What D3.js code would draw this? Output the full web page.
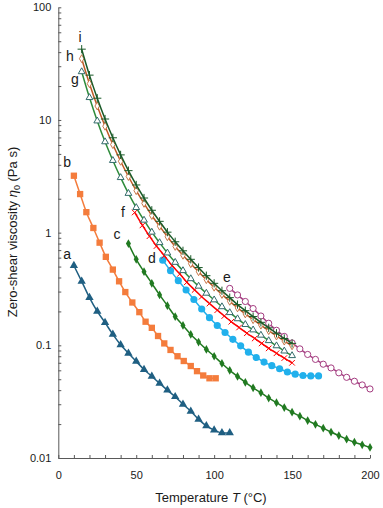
<!DOCTYPE html>
<html>
<head>
<meta charset="utf-8">
<script src="https://cdn.jsdelivr.net/npm/d3@7"></script>
<style>
body { margin: 0; background: #fff; }
svg text { font-family: "Liberation Sans", Arial, sans-serif; fill: #1a1a1a; }
</style>
</head>
<body>
<script>
// temperatures (degC) and zero-shear viscosity (Pa s)
var tempA = [10,15,20,25,30,35,40,45,50,55,60,65,70,75,80,85,90,95,100,105,110];
var viscA = [0.51,0.37,0.265,0.20,0.159,0.125,0.101,0.085,0.072,0.061,0.053,0.046,0.040,0.035,0.030,0.026,0.022,0.0193,0.0177,0.0167,0.0167];

var tempB = [10,14,18,22.5,26.5,30.5,35,39,43,47.5,52,56,60,64,68,72,76.5,80.5,85,89,93,97,101];
var viscB = [3.2,2.2,1.52,1.10,0.815,0.61,0.47,0.37,0.297,0.24,0.197,0.162,0.143,0.121,0.104,0.091,0.080,0.0726,0.0655,0.059,0.054,0.051,0.051];

var tempC = [45,50,55,60,65,70,75,80,85,90,95,100,105,110,115,120,125,130,135,140,145,150,155,160,165,170,175,180,185,190,195,200];
var viscC = [0.80,0.58,0.45,0.355,0.28,0.225,0.18,0.15,0.125,0.107,0.092,0.080,0.069,0.060,0.053,0.047,0.042,0.038,0.034,0.031,0.028,0.0255,0.0235,0.0215,0.0199,0.0184,0.0170,0.0158,0.0147,0.0138,0.0131,0.0124];

var tempD = [67,72,77,82,87,92,97,102,107,112,117,122,127,132,137,142,147,152,157,162,167];
var viscD = [0.57,0.46,0.375,0.31,0.255,0.21,0.176,0.15,0.13,0.113,0.099,0.087,0.078,0.071,0.066,0.062,0.058,0.0555,0.054,0.0535,0.0535];

var tempE = [110,115,120,125,130,135,140,145,150,155,160,165,170,175,180,185,190,195,200];
var viscE = [0.32,0.28,0.245,0.212,0.182,0.157,0.136,0.12,0.105,0.093,0.083,0.075,0.068,0.063,0.057,0.052,0.048,0.0445,0.041];

var tempF = [49,54,58.5,63,68,73,78,82.5,87.5,92,97,102,106.5,111,116,121,126,130.5,135,140,145,150];
var viscF = [1.51,1.16,0.93,0.76,0.625,0.51,0.43,0.363,0.31,0.27,0.235,0.205,0.182,0.162,0.144,0.128,0.115,0.104,0.094,0.085,0.077,0.070];

var tempGHI = [15,20,25,30,35,40,45,50,55,60,65,70,75,80,85,90,95,100,105,110,115,120,125,130,135,140,145,150];
var viscG = [26.8,15.8,9.8,6.4,4.37,3.08,2.23,1.67,1.29,1.01,0.815,0.66,0.545,0.46,0.39,0.335,0.29,0.253,0.22,0.195,0.172,0.153,0.137,0.123,0.11,0.099,0.089,0.081];
var viscH = [35,21,13.3,8.8,6.05,4.3,3.15,2.36,1.82,1.42,1.14,0.92,0.755,0.63,0.53,0.45,0.383,0.328,0.283,0.246,0.215,0.19,0.169,0.151,0.135,0.121,0.109,0.099];
var viscI = [42.5,25,15.6,10.2,6.95,4.9,3.55,2.65,2.03,1.58,1.26,1.01,0.83,0.69,0.58,0.49,0.415,0.355,0.305,0.265,0.23,0.203,0.18,0.16,0.143,0.128,0.115,0.104];

var seriesNames = ['a','b','c','d','e','f','g','h','i'];
var xTickLabels = ['0','50','100','150','200'];
var yTickLabels = ['0.01','0.1','1','10','100'];

var W = 383, H = 508;
var x = d3.scaleLinear().domain([0,200]).range([58.3,370]);
var y = d3.scaleLog().domain([0.01,100]).range([458,7.3]);

var svg = d3.select('body').append('svg').attr('width', W).attr('height', H);

// axes
var xMinor = d3.range(0, 201, 10);
var xAxis = d3.axisBottom(x).tickValues(xMinor).tickSize(-3).tickSizeOuter(0).tickPadding(13)
    .tickFormat(function(d){ return d % 50 === 0 ? xTickLabels[d/50] : ''; });
var gx = svg.append('g').attr('transform','translate(0,458)').call(xAxis);

var yMinor = [];
for (var k = -2; k < 2; k++) {
    for (var m = 1; m < 10; m++) yMinor.push(m * Math.pow(10, k));
}
yMinor.push(100);
var yAxis = d3.axisLeft(y).tickValues(yMinor).tickSize(-3).tickSizeOuter(0).tickPadding(7)
    .tickFormat(function(d){
        var e = Math.round(Math.log10(d));
        return Math.abs(d - Math.pow(10, e)) < 1e-9 ? yTickLabels[e + 2] : '';
    });
var gy = svg.append('g').attr('transform','translate(58.3,0)').call(yAxis);

[gx, gy].forEach(function(g){
    g.selectAll('path,line').attr('stroke','#595959').attr('stroke-width',1);
    g.selectAll('text').attr('font-size', 11).attr('fill','#1a1a1a')
        .attr('font-family','"Liberation Sans", Arial, sans-serif');
});

// axis titles
svg.append('text').attr('x', 211).attr('y', 502).attr('text-anchor','middle').attr('font-size',13)
    .html('Temperature <tspan font-style="italic">T</tspan> (°C)');
svg.append('text').attr('transform','translate(17,232) rotate(-90)').attr('text-anchor','middle').attr('font-size',13)
    .html('Zero-shear viscosity <tspan font-style="italic">η</tspan><tspan font-size="9" dy="3">0</tspan><tspan dy="-3"> (Pa s)</tspan>');

// series
var series = [
    {name:'a', t:tempA, v:viscA, color:'#1f5f82', sym:d3.symbolTriangle, size:30, fill:'#1f5f82', stroke:'none'},
    {name:'b', t:tempB, v:viscB, color:'#f47c3c', sym:d3.symbolSquare, size:40, fill:'#f47c3c', stroke:'none'},
    {name:'c', t:tempC, v:viscC, color:'#217a21', sym:d3.symbolDiamond, size:22, fill:'#217a21', stroke:'none'},
    {name:'d', t:tempD, v:viscD, color:'#21b0ec', sym:d3.symbolCircle, size:40, fill:'#21b0ec', stroke:'none'},
    {name:'e', t:tempE, v:viscE, color:'#a43c80', sym:d3.symbolCircle, size:30, fill:'#fff', stroke:'#a43c80'},
    {name:'f', t:tempF, v:viscF, color:'#ff0000', sym:d3.symbolTimes, size:22, fill:'none', stroke:'#ff0000'},
    {name:'g', t:tempGHI, v:viscG, color:'#2e8b3a', sym:d3.symbolTriangle, size:20, fill:'#fff', stroke:'#336b6b'},
    {name:'h', t:tempGHI, v:viscH, color:'#bf5a26', sym:d3.symbolDiamond, size:18, fill:'#fff', stroke:'#c8784a'},
    {name:'i', t:tempGHI, v:viscI, color:'#1a5a28', sym:d3.symbolPlus, size:24, fill:'none', stroke:'#1a5a28'}
];

var line = d3.line().curve(d3.curveMonotoneX)
    .x(function(d){ return x(d[0]); })
    .y(function(d){ return y(d[1]); });

series.forEach(function(s){
    var pts = s.t.map(function(t, i){ return [t, s.v[i]]; });
    var g = svg.append('g');
    g.append('path').attr('d', line(pts)).attr('fill','none')
        .attr('stroke', s.color).attr('stroke-width', 1.5);
    g.selectAll('.mk').data(pts).enter().append('path')
        .attr('transform', function(d){ return 'translate(' + x(d[0]) + ',' + y(d[1]) + ')'; })
        .attr('d', d3.symbol().type(s.sym).size(s.size))
        .attr('fill', s.fill).attr('stroke', s.stroke).attr('stroke-width', 1);
});

// series labels (placed in data coordinates)
var labelT = [5.6, 5.6, 37.7, 60.1, 108.2, 41.5, 10.7, 7.5, 13.9];
var labelV = [0.64, 4.2, 0.966, 0.59, 0.40, 1.51, 22.9, 36.7, 54];
svg.selectAll('.lbl').data(seriesNames).enter().append('text')
    .attr('x', function(d, i){ return x(labelT[i]); })
    .attr('y', function(d, i){ return y(labelV[i]); })
    .attr('dy', '0.35em').attr('text-anchor','middle').attr('font-size', 14)
    .attr('fill', '#000')
    .text(function(d){ return d; });
</script>
</body>
</html>
